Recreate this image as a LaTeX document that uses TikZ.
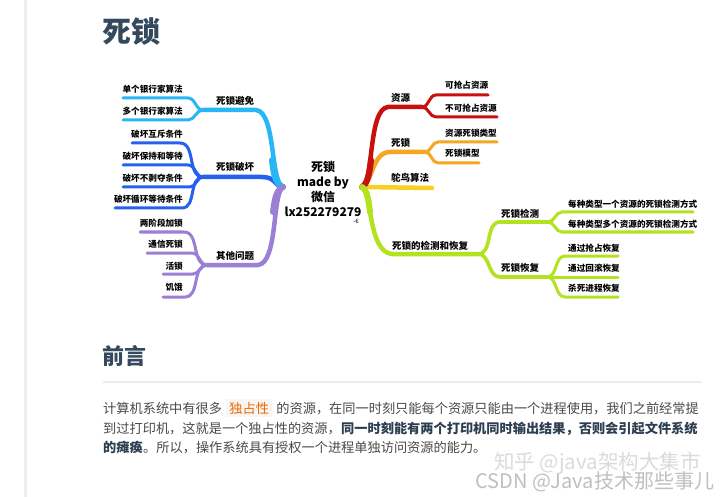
\documentclass[tikz,border=0pt]{standalone}
\usepackage{fontspec}
\setmainfont{Noto Sans CJK SC}
\usetikzlibrary{calc}
\definecolor{cAvoid}{HTML}{29B6F6}
\definecolor{cBreak}{HTML}{2561EC}
\definecolor{cOther}{HTML}{9B7FD4}
\definecolor{cRes}{HTML}{C8100F}
\definecolor{cDl}{HTML}{F5A623}
\definecolor{cOst}{HTML}{F4D21F}
\definecolor{cDet}{HTML}{B3E21E}
\definecolor{titlec}{HTML}{34495E}
\definecolor{bodyc}{HTML}{4A4A4A}
\definecolor{boldc}{HTML}{2C3E50}
\definecolor{hlc}{HTML}{E96900}
\definecolor{hlbg}{HTML}{F8F5F2}
\definecolor{rulec}{HTML}{EAECEF}
\definecolor{bandc}{HTML}{EEEEEE}
\tikzset{
  mainbr/.style={line width=4.5pt, line cap=round},
  rootbr/.style={line width=6pt, line cap=round},
  midbr/.style={line width=3.6pt, line cap=round},
  subbr/.style={line width=3pt, line cap=round},
  mainlbl/.style={font=\bfseries\fontsize{9.5}{10}\selectfont, inner sep=0pt, text=black},
  sublbl/.style={font=\bfseries\fontsize{8.6}{9}\selectfont, inner sep=0pt, text=black},
  bodytxt/.style={font=\fontsize{13.2}{14}\selectfont, inner sep=0pt, text=bodyc, anchor=base west},
  boldtxt/.style={font=\bfseries\fontsize{13.2}{14}\selectfont, inner sep=0pt, text=boldc, anchor=base west},
}
\begin{document}
\begin{tikzpicture}[x=1pt,y=-1pt]
\useasboundingbox (0,0) rectangle (720,497);
\fill[white] (0,0) rectangle (720,497);
\fill[bandc] (24,0) rectangle (27,497);

% title
\node[font=\bfseries\fontsize{29}{30}\selectfont, text=titlec, anchor=west, inner sep=0pt] (title) at (102,32) {死锁};

% coordinates
\coordinate (CL) at (283,187);
\coordinate (CR) at (362,187);
\coordinate (sA) at (203,110);
\coordinate (sB) at (203,177);
\coordinate (sC) at (207,265);
\coordinate (eA1) at (123,98);
\coordinate (eA2) at (123,120);
\coordinate (eB1) at (132,143);
\coordinate (eB2) at (123,165);
\coordinate (eB3) at (123,187);
\coordinate (eB4) at (115,208);
\coordinate (eC1) at (140,232);
\coordinate (eC2) at (147,253);
\coordinate (eC3) at (163,274);
\coordinate (eC4) at (163,297);
\coordinate (sR1) at (422,107);
\coordinate (sR2) at (425,152);
\coordinate (sR4) at (478,254);
\coordinate (sD) at (548,222);
\coordinate (sE) at (547,277);
\coordinate (eR11) at (488,95);
\coordinate (eR12) at (497,117);
\coordinate (eR21) at (497,142);
\coordinate (eR22) at (479,163);
\coordinate (eR3) at (432,188);
\coordinate (eD1) at (693,212);
\coordinate (eD2) at (693,232);
\coordinate (eE1) at (618,256);
\coordinate (eE2) at (618,277);
\coordinate (eE3) at (618,297);

% left branches
\draw[subbr,cAvoid] (sA) to[out=180,in=0] (188,98) -- (eA1);
\draw[subbr,cAvoid] (sA) to[out=180,in=0] (188,120) -- (eA2);
\draw[subbr,cBreak] (sB) to[out=180,in=0] (180,143) -- (eB1);
\draw[subbr,cBreak] (sB) to[out=180,in=0] (188,165) -- (eB2);
\draw[subbr,cBreak] (sB) to[out=180,in=0] (190,187) -- (eB3);
\draw[subbr,cBreak] (sB) to[out=180,in=0] (182,208) -- (eB4);
\draw[subbr,cOther] (sC) to[out=180,in=0] (184,232) -- (eC1);
\draw[subbr,cOther] (sC) to[out=180,in=0] (192,253) -- (eC2);
\draw[subbr,cOther] (sC) to[out=180,in=0] (193,274) -- (eC3);
\draw[subbr,cOther] (sC) to[out=180,in=0] (185,297) -- (eC4);
\draw[mainbr,cAvoid] (CL) .. controls (270,182) and (276,112) .. (256,110) -- (sA);
\draw[mainbr,cBreak] (CL) .. controls (274,186) and (276,177) .. (262,177) -- (sB);
\draw[mainbr,cOther] (CL) .. controls (272,194) and (278,263) .. (258,265) -- (sC);
\draw[rootbr,cAvoid] (CL) .. controls (274,184) and (273,168) .. (272,160);
\draw[rootbr,cOther] (CL) .. controls (275,190) and (274,205) .. (273,212);

% right branches
\draw[subbr,cRes] (sR1) to[out=0,in=180] (436,95) -- (eR11);
\draw[subbr,cRes] (sR1) to[out=0,in=180] (436,117) -- (eR12);
\draw[subbr,cDl] (sR2) to[out=0,in=180] (438,142) -- (eR21);
\draw[subbr,cDl] (sR2) to[out=0,in=180] (438,163) -- (eR22);
\draw[subbr,cDet] (sD) to[out=0,in=180] (562,212) -- (eD1);
\draw[subbr,cDet] (sD) to[out=0,in=180] (562,232) -- (eD2);
\draw[subbr,cDet] (sE) to[out=0,in=180] (565,256) -- (eE1);
\draw[subbr,cDet] (sE) -- (eE2);
\draw[subbr,cDet] (sE) to[out=0,in=180] (565,297) -- (eE3);
\draw[midbr,cDet] (sR4) to[out=0,in=180] (500,222) -- (sD);
\draw[midbr,cDet] (sR4) to[out=0,in=180] (500,277) -- (sE);
\draw[mainbr,cDet] (CR) .. controls (372,192) and (368,252) .. (392,254) -- (sR4);
\draw[mainbr,cOst] (CR) -- (eR3);
\draw[mainbr,cDl] (CR) .. controls (372,184) and (372,152) .. (390,152) -- (sR2);
\draw[mainbr,cRes] (CR) .. controls (374,182) and (368,109) .. (388,107) -- (sR1);
\draw[rootbr,cRes] (CR) .. controls (368,184) and (370,170) .. (371,160);
\draw[rootbr,cDet] (CR) .. controls (368,190) and (369,205) .. (370,212);

% center
\node[font=\bfseries\fontsize{12}{14.7}\selectfont, align=center, inner sep=0pt] (root) at (323,189) {死锁\\made by\\微信\\lx252279279};
\node[font=\fontsize{6}{6}\selectfont, inner sep=0pt] (mk) at (356,221) {-€};

% left labels
\node[mainlbl] (nA) at (235,101) {死锁避免};
\node[mainlbl] (nB) at (235,167) {死锁破坏};
\node[mainlbl] (nC) at (235,256) {其他问题};
\node[sublbl, anchor=east] (a1) at (183,89) {单个银行家算法};
\node[sublbl, anchor=east] (a2) at (183,111) {多个银行家算法};
\node[sublbl, anchor=east] (b1) at (183,134) {破坏互斥条件};
\node[sublbl, anchor=east] (b2) at (183,156) {破坏保持和等待};
\node[sublbl, anchor=east] (b3) at (183,178) {破坏不剥夺条件};
\node[sublbl, anchor=east] (b4) at (183,199) {破坏循环等待条件};
\node[sublbl, anchor=east] (c1) at (183,223) {两阶段加锁};
\node[sublbl, anchor=east] (c2) at (183,244) {通信死锁};
\node[sublbl, anchor=east] (c3) at (183,266) {活锁};
\node[sublbl, anchor=east] (c4) at (183,287) {饥饿};

% right labels
\node[mainlbl, anchor=west] (r1) at (391,98) {资源};
\node[mainlbl, anchor=west] (r2) at (391,143) {死锁};
\node[mainlbl, anchor=west] (r3) at (391,178) {鸵鸟算法};
\node[mainlbl, anchor=west] (r4) at (392,246) {死锁的检测和恢复};
\node[mainlbl, anchor=west] (d0) at (501,214) {死锁检测};
\node[mainlbl, anchor=west] (e0) at (501,268) {死锁恢复};
\node[sublbl, anchor=west] (r11) at (445,85) {可抢占资源};
\node[sublbl, anchor=west] (r12) at (445,108) {不可抢占资源};
\node[sublbl, anchor=west] (r21) at (445,133) {资源死锁类型};
\node[sublbl, anchor=west] (r22) at (445,153) {死锁模型};
\node[sublbl, anchor=west] (d1) at (568,204) {每种类型一个资源的死锁检测方式};
\node[sublbl, anchor=west] (d2) at (568,224) {每种类型多个资源的死锁检测方式};
\node[sublbl, anchor=west] (e1) at (568,248) {通过抢占恢复};
\node[sublbl, anchor=west] (e2) at (568,268) {通过回滚恢复};
\node[sublbl, anchor=west] (e3) at (568,288) {杀死进程恢复};

% section 前言
\node[font=\bfseries\fontsize{22}{24}\selectfont, text=titlec, anchor=west, inner sep=0pt] (pre) at (102,356) {前言};
\draw[rulec, line width=1.5pt] (103,382) -- (702,382);

\node[bodytxt] (l1a) at (103,413) {计算机系统中有很多};
\node[bodytxt, text=hlc, fill=hlbg, inner xsep=3pt, inner ysep=2.5pt] (l1b) at ($(l1a.base east)+(4,0)$) {独占性};
\node[bodytxt] (l1c) at ($(l1b.base east)+(4,0)$) {的资源，在同一时刻只能每个资源只能由一个进程使用，我们之前经常提};
\node[bodytxt] (l2a) at (103,433) {到过打印机，这就是一个独占性的资源，};
\node[boldtxt] (l2b) at (l2a.base east) {同一时刻能有两个打印机同时输出结果，否则会引起文件系统};
\node[boldtxt] (l3a) at (103,452) {的瘫痪};
\node[bodytxt] (l3b) at (l3a.base east) {。所以，操作系统具有授权一个进程单独访问资源的能力。};

% watermarks
\node[font=\fontsize{20.5}{21}\selectfont, text=gray!28, anchor=west, inner sep=0pt] (wm1) at (494,463) {知乎 @java架构大集市};
\node[font=\fontsize{20}{20}\selectfont, text=gray!50, anchor=west, inner sep=0pt] (wm2) at (475,482) {CSDN @Java技术那些事儿};
\end{tikzpicture}
\end{document}
